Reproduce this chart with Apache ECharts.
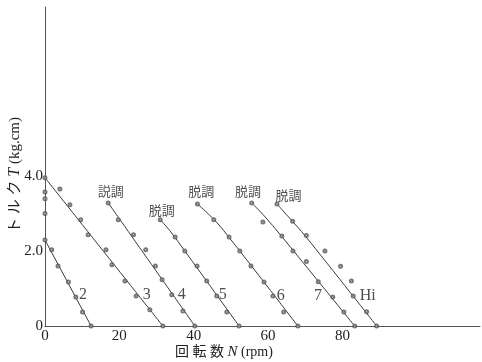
<!DOCTYPE html>
<html><head><meta charset="utf-8">
<script src="https://cdn.jsdelivr.net/npm/echarts@6/dist/echarts.min.js"></script>
<style>html,body{margin:0;padding:0;background:#fff}#c{width:482px;height:362px}</style>
</head><body><div id="c"></div>
<script>
// x ticks and y ticks
const xTicks = [0, 20, 40, 60, 80];
const yTicks = [0, 2.0, 4.0];
// series names
const seriesNames = ['2', '3', '4', '5', '6', '7', 'Hi'];
// fitted curves [N, T]
const curve2 = [[0, 2.29], [12.4, 0]];
const curve3 = [[0, 3.95], [31.7, 0]];
const curve4 = [[17, 3.28], [40.3, 0]];
const curve5 = [[31, 2.83], [33.5, 2.55], [37.6, 2.0], [52.2, 0]];
const curve6 = [[41, 3.25], [44, 2.98], [48, 2.55], [68, 0]];
const curve7 = [[55.6, 3.28], [59, 2.93], [63.3, 2.43], [83.3, 0]];
const curveHi = [[62.4, 3.25], [66, 2.85], [70, 2.4], [89.2, 0]];
// measured points [N, T]
const pts2 = [[0, 2.29], [1.8, 2.03], [3.5, 1.6], [6.3, 1.17], [8.3, 0.77], [10.1, 0.37], [12.4, 0]];
const pts3 = [[0, 3.95], [0, 3.57], [0, 3.39], [0, 3.0], [4.0, 3.65], [6.7, 3.23], [9.6, 2.83], [11.6, 2.43], [16.4, 2.03], [18, 1.63], [21.5, 1.2], [24.5, 0.8], [28.2, 0.43], [31.7, 0]];
const pts4 = [[17, 3.28], [19.7, 2.83], [23.8, 2.43], [27.1, 2.03], [29.7, 1.6], [31.5, 1.23], [34.1, 0.83], [37.1, 0.4], [40.3, 0]];
const pts5 = [[31, 2.83], [35, 2.37], [37.6, 2.0], [40.9, 1.6], [43.5, 1.2], [46.2, 0.8], [48.9, 0.37], [52.2, 0]];
const pts6 = [[41, 3.25], [45.4, 2.83], [49.5, 2.37], [52.4, 2.0], [55.4, 1.6], [58.9, 1.17], [61.3, 0.8], [64.2, 0.37], [68, 0]];
const pts7 = [[55.6, 3.28], [58.6, 2.77], [63.7, 2.4], [66.7, 2.0], [70.3, 1.72], [73.5, 1.18], [77.4, 0.77], [80.4, 0.37], [83.3, 0]];
const ptsHi = [[62.4, 3.25], [66.6, 2.79], [70.3, 2.41], [75.3, 2.0], [79.5, 1.59], [82.4, 1.2], [82.9, 0.8], [86.5, 0.38], [89.2, 0]];
// annotation texts [N, T, text]
const curveLabels = [[10.2, 0.83, '2'], [27.4, 0.83, '3'], [36.8, 0.83, '4'], [47.8, 0.83, '5'], [63.4, 0.8, '6'], [73.4, 0.8, '7'], [86.8, 0.8, 'Hi']];
const stepOutLabels = [[17.7, 3.56, '説調'], [31.4, 3.05, '脱調'], [42.0, 3.56, '脱調'], [54.6, 3.56, '脱調'], [65.5, 3.45, '脱調']];

const FONT = "'Liberation Serif', 'DejaVu Serif', 'Noto Sans CJK JP', serif";
const curves = [curve2, curve3, curve4, curve5, curve6, curve7, curveHi];
const points = [pts2, pts3, pts4, pts5, pts6, pts7, ptsHi];

const series = [];
curves.forEach((c, i) => series.push({
  type: 'line', name: seriesNames[i], data: c, smooth: 0.35, showSymbol: false,
  lineStyle: { color: '#3a3a3a', width: 1 }, silent: true, z: 2
}));
points.forEach((p, i) => series.push({
  type: 'scatter', name: seriesNames[i] + ' pts', data: p, symbol: 'emptyCircle', symbolSize: 3,
  itemStyle: { color: '#555', borderColor: '#555', borderWidth: 0.8 }, silent: true, z: 3
}));
series.push({
  type: 'scatter', data: curveLabels, symbolSize: 0, silent: true,
  label: { show: true, position: 'inside', formatter: p => p.data[2], fontFamily: FONT, fontSize: 16, color: '#222' }
});
series.push({
  type: 'scatter', data: stepOutLabels, symbolSize: 0, silent: true,
  label: { show: true, position: 'inside', formatter: p => p.data[2], fontFamily: FONT, fontSize: 13, color: '#222' }
});

const chart = echarts.init(document.getElementById('c'), null, { renderer: 'canvas' });
chart.setOption({
  animation: false,
  backgroundColor: '#fff',
  grid: { left: 45, right: 2, top: 7, bottom: 36, containLabel: false, outerBoundsMode: 'none' },
  xAxis: {
    type: 'value', min: 0, max: 117, interval: 20,
    axisLine: { lineStyle: { color: '#555', width: 1 } },
    axisTick: { show: false }, splitLine: { show: false },
    axisLabel: {
      fontFamily: FONT, fontSize: 15, color: '#222', margin: 3,
      formatter: v => xTicks.includes(v) ? String(v) : ''
    }
  },
  yAxis: {
    type: 'value', min: 0, max: 8.5, interval: 2,
    axisLine: { show: true, lineStyle: { color: '#555', width: 1 } },
    axisTick: { show: false }, splitLine: { show: false },
    axisLabel: {
      fontFamily: FONT, fontSize: 15, color: '#222', margin: 2,
      formatter: v => yTicks.includes(v) ? (v === 0 ? '0' : v.toFixed(1)) : ''
    }
  },
  graphic: [{
    type: 'text', x: 175, y: 345,
    style: {
      text: '{a|回 転 数 }{i|N}{a| (rpm)}', fill: '#222',
      rich: {
        a: { fontFamily: FONT, fontSize: 14, fill: '#222' },
        i: { fontFamily: FONT, fontSize: 15, fontStyle: 'italic', fill: '#222' }
      }
    }
  }, {
    type: 'text', x: 15, y: 175, rotation: Math.PI / 2,
    style: {
      text: '{a|ト ル ク }{i|T}{a| (kg.cm)}', fill: '#222', align: 'center', verticalAlign: 'middle',
      rich: {
        a: { fontFamily: FONT, fontSize: 15, fill: '#222' },
        i: { fontFamily: FONT, fontSize: 16, fontStyle: 'italic', fill: '#222' }
      }
    }
  }],
  series
});
</script></body></html>
